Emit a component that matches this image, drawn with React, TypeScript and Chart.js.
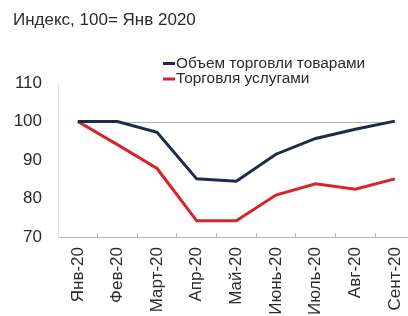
import React, { useEffect, useRef } from "react";
import { Chart, registerables } from "chart.js";

Chart.register(...registerables);

const categories = ["Янв-20", "Фев-20", "Март-20", "Апр-20", "Май-20", "Июнь-20", "Июль-20", "Авг-20", "Сент-20"];
const goodsValues = [100, 100, 97.2, 85.1, 84.5, 91.5, 95.6, 98.0, 100.1];
const servicesValues = [100, 94.0, 87.8, 74.2, 74.2, 80.9, 83.8, 82.4, 85.1];
const seriesLabels = ["Объем торговли товарами", "Торговля услугами"];
const yTicks = [70, 80, 90, 100, 110];
const baseValue = 100;
const titleText = "Индекс, 100= Янв 2020";

const FONT = "'Liberation Sans', Arial, sans-serif";
const TEXT = "#2b2b2b";

const baseLinePlugin = {
  id: "baseLine",
  beforeDatasetsDraw(chart: any) {
    const { ctx, scales } = chart;
    const x = scales.x, y = scales.y;
    const yy = Math.round(y.getPixelForValue(baseValue)) + 0.5;
    ctx.save();
    ctx.strokeStyle = "#b3b3b3";
    ctx.lineWidth = 1;
    ctx.beginPath();
    ctx.moveTo(x.getPixelForValue(0), yy);
    ctx.lineTo(x.getPixelForValue(categories.length - 1), yy);
    ctx.stroke();
    ctx.restore();
  },
};

const legendPlugin = {
  id: "customLegend",
  afterDraw(chart: any) {
    const { ctx } = chart;
    const rows = [63.5, 79];
    ctx.save();
    ctx.font = `15.4px ${FONT}`;
    ctx.textBaseline = "middle";
    ctx.textAlign = "left";
    chart.data.datasets.forEach((ds: any, i: number) => {
      const yy = rows[i];
      ctx.strokeStyle = ds.borderColor;
      ctx.lineWidth = 3;
      ctx.beginPath();
      ctx.moveTo(163, yy);
      ctx.lineTo(175, yy);
      ctx.stroke();
      ctx.fillStyle = TEXT;
      ctx.fillText(ds.label, 176, yy);
    });
    ctx.restore();
  },
};

export default function App() {
  const ref = useRef<HTMLCanvasElement | null>(null);

  useEffect(() => {
    if (!ref.current) return;
    const chart = new Chart(ref.current, {
      type: "line",
      data: {
        labels: categories,
        datasets: [
          {
            label: seriesLabels[0],
            data: goodsValues,
            borderColor: "#1f2a48",
            backgroundColor: "#1f2a48",
            borderWidth: 3,
            pointRadius: 0,
            tension: 0,
          },
          {
            label: seriesLabels[1],
            data: servicesValues,
            borderColor: "#d7232b",
            backgroundColor: "#d7232b",
            borderWidth: 3,
            pointRadius: 0,
            tension: 0,
          },
        ],
      },
      options: {
        animation: false,
        responsive: true,
        maintainAspectRatio: false,
        layout: { padding: { left: 13, right: 14, top: 0, bottom: 0 } },
        plugins: {
          legend: { display: false },
          tooltip: { enabled: false },
          title: {
            display: true,
            text: titleText,
            align: "start",
            color: TEXT,
            font: { family: FONT, size: 17, weight: "normal" },
            padding: { top: 10, bottom: 52.6 },
          },
        },
        scales: {
          x: {
            offset: true,
            grid: {
              display: true,
              offset: true,
              drawOnChartArea: false,
              drawTicks: true,
              tickLength: -4,
              color: "#b5b5b5",
            },
            border: { display: true, color: "#b5b5b5", width: 1 },
            ticks: {
              minRotation: 90,
              maxRotation: 90,
              autoSkip: false,
              padding: 14,
              color: TEXT,
              font: { family: FONT, size: 17 },
            },
            afterFit(scale: any) {
              scale.height = 103;
            },
          },
          y: {
            min: 70,
            max: 110,
            afterBuildTicks(scale: any) {
              scale.ticks = yTicks.map((v) => ({ value: v }));
            },
            grid: { display: false, drawTicks: false },
            border: { display: true, color: "#e0e0e0", width: 1 },
            ticks: {
              padding: 16,
              color: TEXT,
              font: { family: FONT, size: 17 },
            },
            afterFit(scale: any) {
              scale.width = 45;
            },
          },
        },
      },
      plugins: [baseLinePlugin, legendPlugin],
    });
    return () => chart.destroy();
  }, []);

  return (
    <div style={{ position: "fixed", left: 0, top: 0, width: 408, height: 316, overflow: "hidden", background: "#fff" }}>
      <div style={{ position: "relative", width: 430, height: 340 }}>
        <canvas ref={ref} />
      </div>
    </div>
  );
}
